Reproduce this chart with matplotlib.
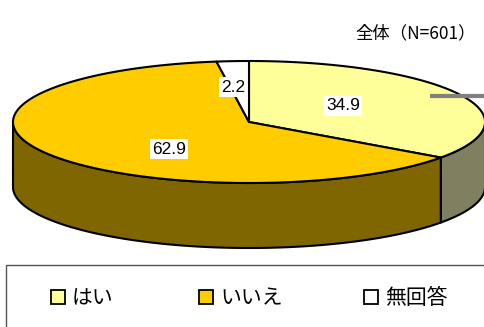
import numpy as np
import matplotlib
matplotlib.use("Agg")
import matplotlib.pyplot as plt
from matplotlib.patches import Polygon, Rectangle

plt.rcParams['font.family'] = ['Noto Sans CJK JP', 'DejaVu Sans']

categories = ['はい', 'いいえ', '無回答']
values = [34.9, 62.9, 2.2]
value_labels = ['34.9', '62.9', '2.2']
top_colors = ['#FFFF99', '#FFCC00', '#FFFFFF']
side_colors = ['#808060', '#806600', '#808080']
title = '全体\uff08N=601\uff09'

CX, CY, A, B, DEPTH = 249, 122, 236, 61, 65

fig = plt.figure(figsize=(4.85, 3.27), dpi=100)
ax = fig.add_axes([0, 0, 1, 1])
ax.set_xlim(0, 485)
ax.set_ylim(327, 0)
ax.axis('off')


def pt(t, dy=0):
    return np.column_stack([CX + A * np.sin(t), CY - B * np.cos(t) + dy])


fr = np.cumsum([0] + values) / sum(values) * 2 * np.pi

# side walls (visible front half only)
for i in range(len(values)):
    lo, hi = max(fr[i], np.pi / 2), min(fr[i + 1], 3 * np.pi / 2)
    if hi <= lo:
        continue
    t = np.linspace(lo, hi, 200)
    poly = np.vstack([pt(t), pt(t[::-1], DEPTH)])
    ax.add_patch(Polygon(poly, closed=True, fc=side_colors[i], ec='black', lw=1.5, joinstyle='round'))

# top wedges
for i in range(len(values)):
    t = np.linspace(fr[i], fr[i + 1], 300)
    poly = np.vstack([[[CX, CY]], pt(t)])
    ax.add_patch(Polygon(poly, closed=True, fc=top_colors[i], ec='black', lw=1.5, joinstyle='round'))

# value labels
label_pos = [(343, 106), (169, 149), (233, 87)]
for s, (x, y) in zip(value_labels, label_pos):
    ax.text(x, y, s, ha='center', va='center', fontsize=12.5, family=['Liberation Sans'],
            color='black', bbox=dict(fc='white', ec='none', pad=1.6), zorder=5)

ax.text(416, 33.5, title, ha='center', va='center', fontsize=12.5, color='black')

# gray leader line
ax.plot([430, 485], [96, 96], color='#808080', lw=3, solid_capstyle='butt', zorder=6)

# legend frame
ax.add_patch(Rectangle((6, 265), 500, 80, fc='white', ec='#555555', lw=1, zorder=1))
legend_x = [51, 199, 364]
for x, c, name in zip(legend_x, top_colors, categories):
    ax.add_patch(Rectangle((x, 290), 14, 14, fc=c, ec='black', lw=1.3, zorder=3))
    ax.text(x + 21, 298, name, ha='left', va='center', fontsize=15, color='black', zorder=3)

fig.savefig('out.png', dpi=100)
